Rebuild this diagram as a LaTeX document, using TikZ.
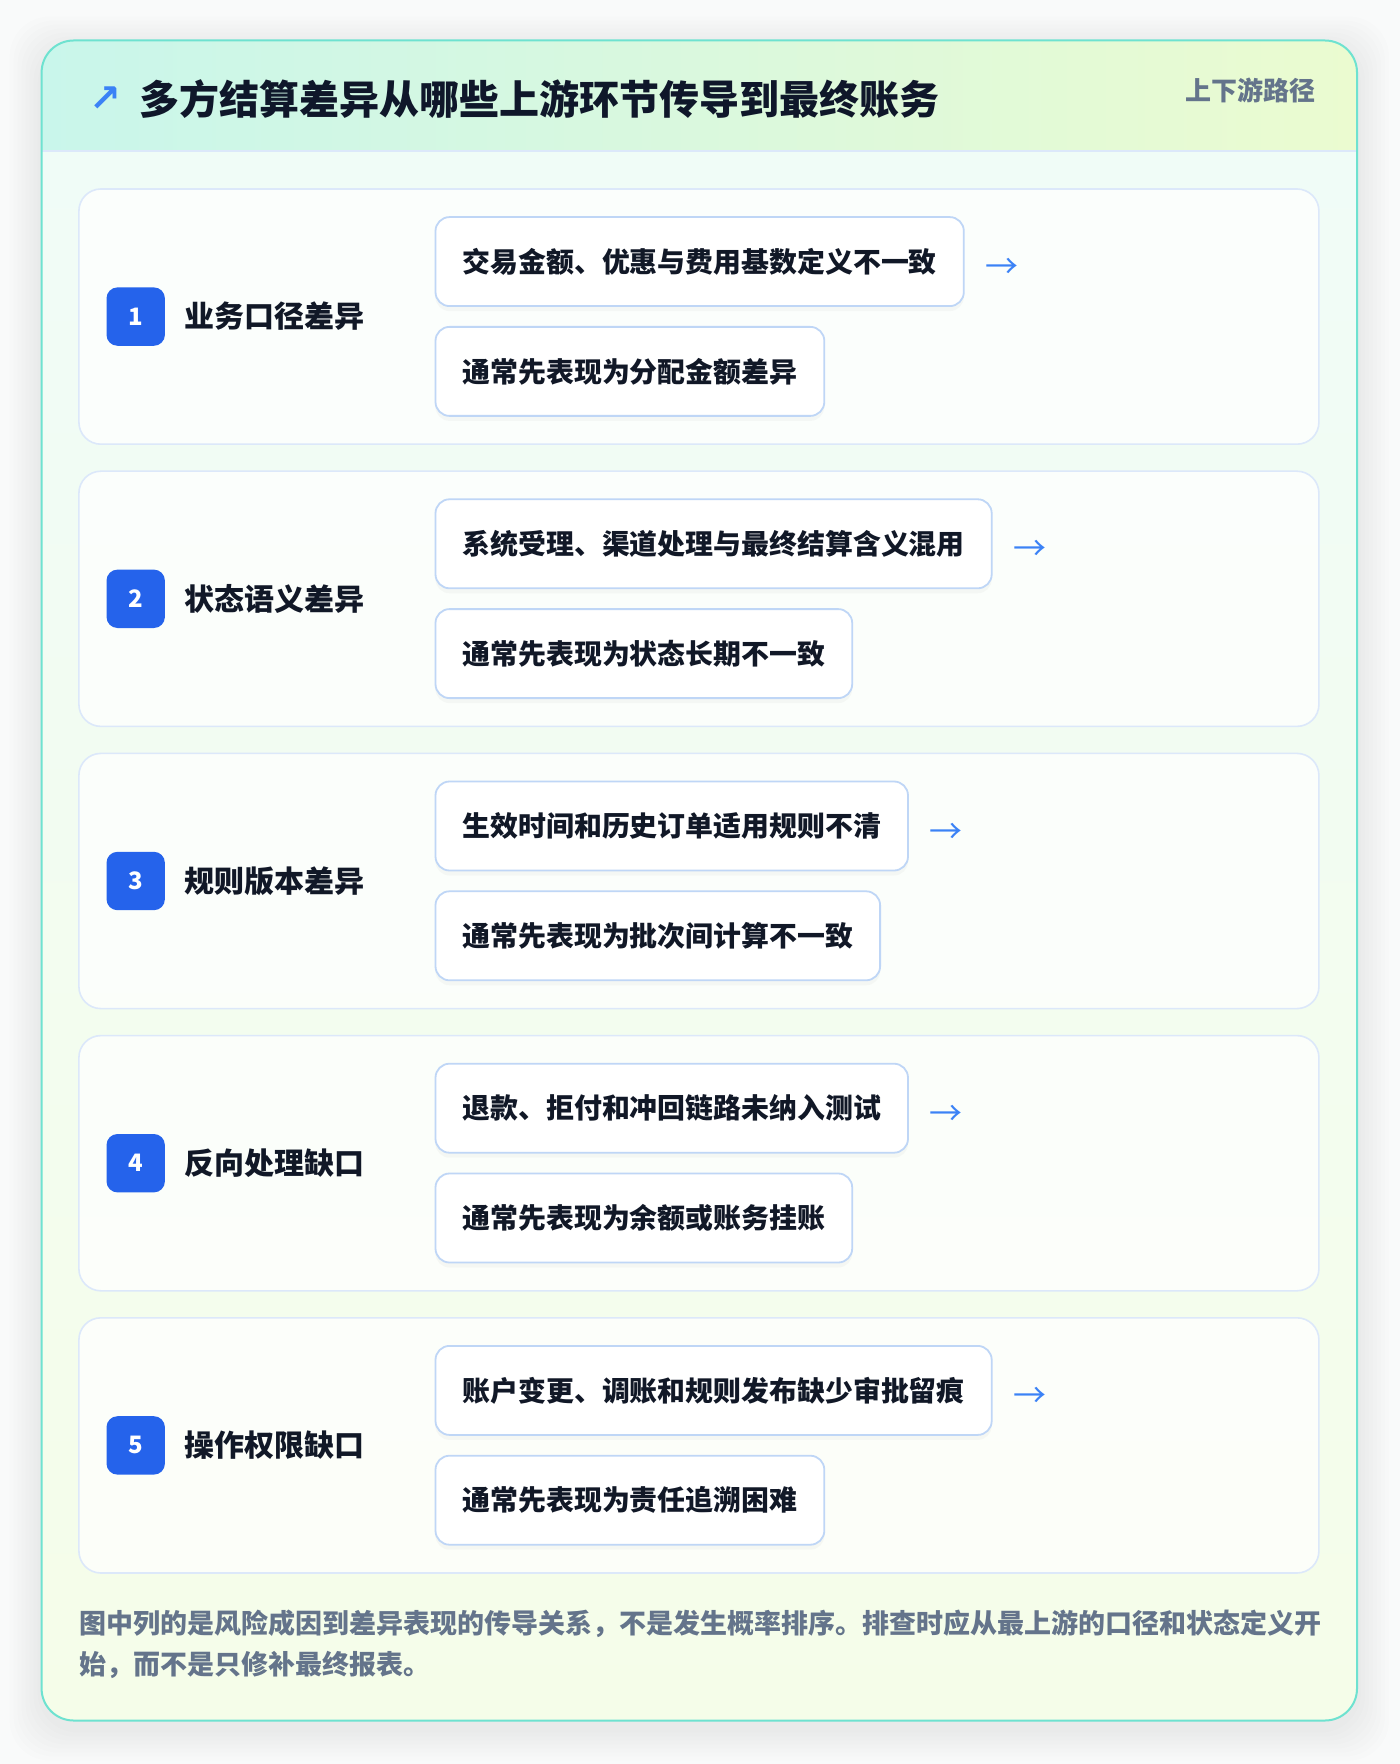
\documentclass[tikz,border=0pt]{standalone}
\usepackage{fontspec}
\setmainfont{Noto Sans CJK SC}
\newfontfamily\symfont{DejaVu Sans}
\usetikzlibrary{positioning,shadows}

\definecolor{pagebg}{HTML}{F9FAFA}
\definecolor{cardline}{HTML}{6EE2D0}
\definecolor{headleft}{HTML}{C9F6EB}
\definecolor{headright}{HTML}{EBFBD0}
\definecolor{bodytop}{HTML}{F0FCF8}
\definecolor{bodybottom}{HTML}{F5FDE9}
\definecolor{rowline}{HTML}{DCE8FA}
\definecolor{boxline}{HTML}{BFD6F6}
\definecolor{badgeblue}{HTML}{2563EB}
\definecolor{arrowblue}{HTML}{3B82F6}
\definecolor{ink}{HTML}{111827}
\definecolor{titleink}{HTML}{0F172A}
\definecolor{muted}{HTML}{64748B}

\begin{document}
\begin{tikzpicture}[x=0.5pt,y=-0.5pt]

  % Definitions
  \tikzstyle{rowcard} = [rectangle, rounded corners=11pt, minimum width=620pt, minimum height=127.6pt, draw=rowline, line width=0.8pt, fill=white, fill opacity=0.75]
  \tikzstyle{badge} = [rectangle, rounded corners=5.5pt, minimum size=29.2pt, inner sep=0pt, fill=badgeblue, text=white, font=\bfseries\fontsize{12pt}{12pt}\selectfont]
  \tikzstyle{rowlabel} = [inner sep=0pt, text=ink, font=\bfseries\fontsize{15pt}{15pt}\selectfont]
  \tikzstyle{cause} = [rectangle, rounded corners=7pt, minimum height=44.5pt, inner xsep=13.5pt, draw=boxline, line width=0.9pt, fill=white, text=ink, font=\bfseries\fontsize{13.95pt}{14pt}\selectfont, drop shadow={shadow xshift=0pt, shadow yshift=-2.5pt, opacity=0.05}]
  \tikzstyle{flow} = [inner sep=0pt, text=arrowblue, font=\fontsize{16.5pt}{16.5pt}\selectfont]

  \useasboundingbox (0,0) rectangle (1400,1764);
  \fill[pagebg] (0,0) rectangle (1400,1764);

  % card with soft shadow
  \foreach \i in {1,...,8}
    \fill[black, opacity=0.007, rounded corners=20pt] (41.6-\i*4,48.5-\i*4) rectangle (1357+\i*4,1728.5+\i*4);
  \shade[rounded corners=16pt, top color=bodytop, bottom color=bodybottom] (41.6,40.5) rectangle (1357,1720.5);
  \begin{scope}
    \clip[rounded corners=16pt] (41.6,40.5) rectangle (1357,1720.5);
    \shade[left color=headleft, right color=headright] (41.6,40.5) rectangle (1357,150.7);
    \draw[rowline, line width=1pt] (41.6,150.7) -- (1357,150.7);
  \end{scope}
  \draw[cardline, line width=1pt, rounded corners=16pt] (41.6,40.5) rectangle (1357,1720.5);

  % header
  \node (title) [anchor=west, inner sep=0pt, text=titleink, font=\bfseries\fontsize{20pt}{20pt}\selectfont] at (139.4,99) {多方结算差异从哪些上游环节传导到最终账务};
  \node (icon) [left=9pt of title, inner sep=0pt, text=arrowblue, font=\symfont\bfseries\fontsize{19pt}{19pt}\selectfont] {↗};
  \node (tag) [anchor=east, inner sep=0pt, text=muted, font=\bfseries\fontsize{13pt}{13pt}\selectfont] at (1315.7,90) {上下游路径};

  % rows
  \node (row1) [rowcard] at (698.9,316.6) {};
  \node (row2) [rowcard, below=12.7pt of row1] {};
  \node (row3) [rowcard, below=12.7pt of row2] {};
  \node (row4) [rowcard, below=12.7pt of row3] {};
  \node (row5) [rowcard, below=12.7pt of row4] {};

  \node (b1) [badge, right=14pt of row1.west] {1};
  \node (b2) [badge, right=14pt of row2.west] {2};
  \node (b3) [badge, right=14pt of row3.west] {3};
  \node (b4) [badge, right=14pt of row4.west] {4};
  \node (b5) [badge, right=14pt of row5.west] {5};

  \node (l1) [rowlabel, right=9.5pt of b1] {业务口径差异};
  \node (l2) [rowlabel, right=9.5pt of b2] {状态语义差异};
  \node (l3) [rowlabel, right=9.5pt of b3] {规则版本差异};
  \node (l4) [rowlabel, right=9.5pt of b4] {反向处理缺口};
  \node (l5) [rowlabel, right=9.5pt of b5] {操作权限缺口};

  \node (c1) [cause, below right=14pt and 178.25pt of row1.north west] {交易金额、优惠与费用基数定义不一致};
  \node (s1) [cause, below=9.5pt of c1.south west, anchor=north west] {通常先表现为分配金额差异};
  \node (a1) [flow, right=10pt of c1, yshift=-3.5pt] {→};

  \node (c2) [cause, below right=14pt and 178.25pt of row2.north west] {系统受理、渠道处理与最终结算含义混用};
  \node (s2) [cause, below=9.5pt of c2.south west, anchor=north west] {通常先表现为状态长期不一致};
  \node (a2) [flow, right=10pt of c2, yshift=-3.5pt] {→};

  \node (c3) [cause, below right=14pt and 178.25pt of row3.north west] {生效时间和历史订单适用规则不清};
  \node (s3) [cause, below=9.5pt of c3.south west, anchor=north west] {通常先表现为批次间计算不一致};
  \node (a3) [flow, right=10pt of c3, yshift=-3.5pt] {→};

  \node (c4) [cause, below right=14pt and 178.25pt of row4.north west] {退款、拒付和冲回链路未纳入测试};
  \node (s4) [cause, below=9.5pt of c4.south west, anchor=north west] {通常先表现为余额或账务挂账};
  \node (a4) [flow, right=10pt of c4, yshift=-3.5pt] {→};

  \node (c5) [cause, below right=14pt and 178.25pt of row5.north west] {账户变更、调账和规则发布缺少审批留痕};
  \node (s5) [cause, below=9.5pt of c5.south west, anchor=north west] {通常先表现为责任追溯困难};
  \node (a5) [flow, right=10pt of c5, yshift=-3.5pt] {→};

  % footer
  \node (note) [anchor=west, inner sep=0pt, align=left, text=muted, font=\bfseries\fontsize{13.5pt}{20.5pt}\selectfont] at (78.7,1644.7) {图中列的是风险成因到差异表现的传导关系，不是发生概率排序。排查时应从最上游的口径和状态定义开\\始，而不是只修补最终报表。};

\end{tikzpicture}
\end{document}
